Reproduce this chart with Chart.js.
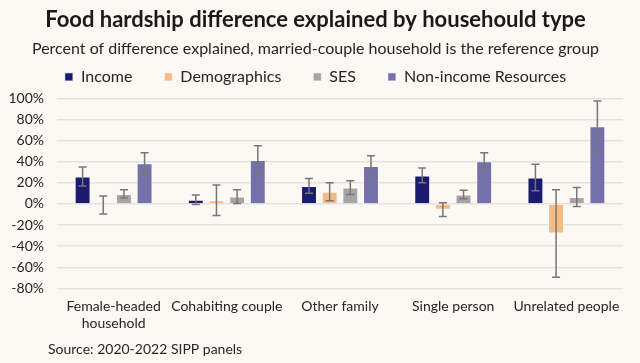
<!DOCTYPE html>
<html>
<head>
<meta charset="utf-8">
<script src="https://cdn.jsdelivr.net/npm/chart.js@4.4.1/dist/chart.umd.min.js"></script>
<style>
  html, body { margin: 0; padding: 0; background: #fcf8f4; }
  #wrap { width: 640px; height: 363px; position: relative; }
</style>
</head>
<body>
<div id="wrap"><canvas id="chart"></canvas></div>
<script>
// household types (x axis)
const categories = [
  ['Female-headed', 'household'],
  'Cohabiting couple',
  'Other family',
  'Single person',
  'Unrelated people'
];

// percent of difference explained
const income = [26, 4, 17, 27, 25];
const incomeErr = [9, 4.5, 7, 7, 12.5];

const demographics = [-1, 3.5, 11.5, -5.5, -28];
const demographicsErr = [8.5, 14.5, 8.5, 6.5, 41.5];

const ses = [9.5, 7, 15.5, 9, 6.5];
const sesErr = [4, 6.5, 6.5, 4, 9];

const nonIncome = [38.5, 41.5, 36, 40.5, 73.5];
const nonIncomeErr = [10, 13.5, 9.5, 8, 24];

const yMin = -80, yMax = 100, yStep = 20;

const textColor = '#262626';
const fontFamily = 'Lato, "Open Sans", sans-serif';

// draws the +/- error whiskers on top of each bar
const errorBars = {
  id: 'errorBars',
  afterDatasetsDraw(chart) {
    const ctx = chart.ctx;
    const y = chart.scales.y;
    ctx.save();
    ctx.strokeStyle = '#777777';
    ctx.lineWidth = 1.5;
    chart.data.datasets.forEach((ds, i) => {
      const meta = chart.getDatasetMeta(i);
      if (meta.hidden) return;
      meta.data.forEach((bar, j) => {
        const v = ds.data[j], e = ds.errors[j];
        const top = y.getPixelForValue(v + e);
        const bot = y.getPixelForValue(v - e);
        const x = bar.x;
        ctx.beginPath();
        ctx.moveTo(x, top); ctx.lineTo(x, bot);
        ctx.moveTo(x - 4, top); ctx.lineTo(x + 4, top);
        ctx.moveTo(x - 4, bot); ctx.lineTo(x + 4, bot);
        ctx.stroke();
      });
    });
    ctx.restore();
  }
};

// source note under the axis
const sourceNote = {
  id: 'sourceNote',
  afterDraw(chart) {
    const ctx = chart.ctx;
    ctx.save();
    ctx.font = '14px ' + fontFamily;
    ctx.fillStyle = textColor;
    ctx.textBaseline = 'middle';
    ctx.textAlign = 'left';
    ctx.fillText('Source: 2020-2022 SIPP panels', 48, 349);
    ctx.restore();
  }
};

const makeSet = (label, data, errors, color) => ({
  label: label,
  data: data,
  errors: errors,
  backgroundColor: color,
  borderColor: 'rgba(255,255,255,0.55)',
  borderWidth: 1,
  categoryPercentage: 0.73,
  barPercentage: 0.77
});

new Chart(document.getElementById('chart'), {
  type: 'bar',
  data: {
    labels: categories,
    datasets: [
      makeSet('Income', income, incomeErr, '#1b1b6f'),
      makeSet('Demographics', demographics, demographicsErr, '#f4bb85'),
      makeSet('SES', ses, sesErr, '#a5a5a5'),
      makeSet('Non-income Resources', nonIncome, nonIncomeErr, '#7471aa')
    ]
  },
  options: {
    responsive: true,
    maintainAspectRatio: false,
    animation: false,
    layout: { padding: { left: 8, right: 17, top: 0, bottom: 21 } },
    plugins: {
      title: {
        display: true,
        text: 'Food hardship difference explained by househould type',
        color: '#1a1a1a',
        font: { family: fontFamily, size: 22, weight: 'bold' },
        padding: { top: 7, bottom: 3.6 }
      },
      subtitle: {
        display: true,
        text: 'Percent of difference explained, married-couple household is the reference group',
        color: textColor,
        font: { family: fontFamily, size: 16 },
        padding: { top: 2.2, bottom: -21.5 }
      },
      legend: {
        display: true,
        labels: {
          color: textColor,
          font: { family: fontFamily, size: 16 },
          boxWidth: 8,
          boxHeight: 8,
          padding: 32
        }
      },
      tooltip: { enabled: false }
    },
    scales: {
      x: {
        grid: { display: false, drawTicks: false },
        border: { display: false },
        ticks: {
          color: textColor,
          font: { family: fontFamily, size: 14 },
          padding: 10,
          maxRotation: 0,
          autoSkip: false
        }
      },
      xTop: {
        type: 'category',
        position: 'top',
        grid: { display: false, drawTicks: false },
        border: { display: false },
        ticks: { display: false },
        afterFit: (scale) => { scale.height = 3.3; }
      },
      y: {
        min: yMin,
        max: yMax,
        grid: { color: '#e4e1df', lineWidth: 1.5, drawTicks: false },
        border: { display: false },
        ticks: {
          stepSize: yStep,
          autoSkip: false,
          color: textColor,
          font: { family: fontFamily, size: 14 },
          padding: 13,
          callback: (v) => v + '%'
        },
        afterFit: (scale) => { scale.width = 49; }
      }
    }
  },
  plugins: [errorBars, sourceNote]
});
</script>
</body>
</html>
